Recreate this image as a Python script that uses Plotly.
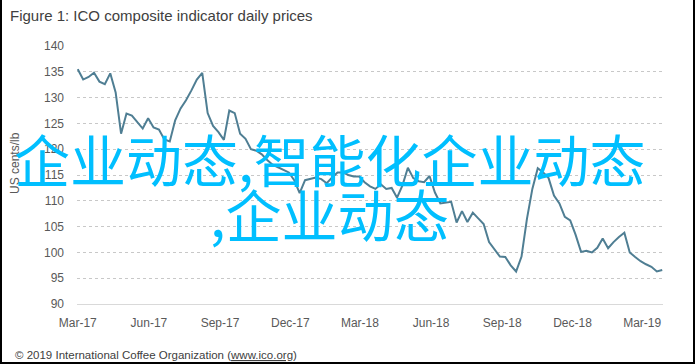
import pandas as pd
import plotly.graph_objects as go

# ---- data (weekly sampling) ----
start_date = "2017-03-01"
prices = [
    135.5, 133.5, 134.0, 134.8, 133.1, 132.6, 134.7, 131.0, 123.0, 126.9,
    126.5, 125.2, 124.0, 126.0, 124.2, 123.8, 121.9, 121.5, 125.6, 127.9,
    129.5, 131.4, 133.5, 134.8, 127.0, 124.5, 123.3, 121.8, 127.5, 127.0,
    123.0, 122.0, 120.0, 119.7, 119.0, 117.9, 117.0, 116.5, 116.0, 115.5,
    114.0, 111.5, 114.0, 114.2, 114.5, 114.2, 113.4, 114.5, 115.5, 115.5,
    115.0, 114.7, 114.7, 113.6, 112.8, 112.3, 113.2, 112.3, 112.5, 110.6,
    113.0, 116.4, 114.4, 113.8, 113.6, 114.8, 111.6, 109.5, 109.6, 109.8,
    105.8, 108.0, 105.9, 107.7, 106.6, 105.5, 102.0, 100.5, 99.2, 99.1,
    97.5, 96.3, 99.2, 106.5, 112.3, 116.3, 115.5, 114.4, 111.0, 109.5,
    106.9, 106.2, 103.4, 100.1, 100.3, 100.0, 100.9, 102.7, 100.8, 102.0,
    103.0, 103.8, 100.0, 99.1, 98.3, 97.7, 97.2, 96.3, 96.6,
]
dates = pd.date_range(start_date, periods=len(prices), freq="7D")

tick_dates = ["2017-03-01", "2017-06-01", "2017-09-01", "2017-12-01", "2018-03-01",
              "2018-06-01", "2018-09-01", "2018-12-01", "2019-03-01"]
tick_labels = ["Mar-17", "Jun-17", "Sep-17", "Dec-17", "Mar-18",
               "Jun-18", "Sep-18", "Dec-18", "Mar-19"]
y_ticks = [90, 95, 100, 105, 110, 115, 120, 125, 130, 135, 140]

title_text = "Figure 1: ICO composite indicator daily prices"
y_title = "US cents/lb"
footer_text = "© 2019 International Coffee Organization (<u>www.ico.org</u>)"
overlay_line1 = "企业动态,智能化企业动态"
overlay_line2 = ",企业动态"

# ---- figure ----
W, H = 695, 364
L, R, T, B = 77, 32, 46, 60
pw, ph = W - L - R, H - T - B


def px_x(x):
    return (x - L) / pw


def px_y(y):
    return (H - B - y) / ph


fig = go.Figure()
fig.add_trace(go.Scatter(
    x=dates, y=prices, mode="lines",
    line=dict(color="#4f7e93", width=2),
    hoverinfo="skip", showlegend=False,
))

text_font = "Liberation Sans, Arial, sans-serif"

fig.update_layout(
    width=W, height=H,
    margin=dict(l=L, r=R, t=T, b=B),
    paper_bgcolor="white", plot_bgcolor="white",
    showlegend=False,
    xaxis=dict(
        range=["2017-02-28", "2019-03-28"],
        tickvals=tick_dates, ticktext=tick_labels,
        showgrid=False, zeroline=False,
        showline=True, linecolor="#d9d9d9", linewidth=1,
        ticks="", ticklabelstandoff=8,
        tickfont=dict(family=text_font, size=12, color="#595959"),
    ),
    yaxis=dict(
        range=[90, 140], tickvals=y_ticks,
        showgrid=True, gridcolor="#c8c8c8", griddash="dot", gridwidth=1,
        zeroline=False, showline=False, ticks="", ticklabelstandoff=12,
        tickfont=dict(family=text_font, size=12, color="#595959"),
    ),
)

annotations = [
    dict(text=title_text, x=px_x(8), y=px_y(15), xref="paper", yref="paper",
         xanchor="left", yanchor="middle", showarrow=False,
         font=dict(family=text_font, size=15, color="#404040")),
    dict(text=y_title, x=px_x(15), y=px_y(163), xref="paper", yref="paper",
         xanchor="center", yanchor="middle", textangle=-90, showarrow=False,
         font=dict(family=text_font, size=12, color="#595959")),
    dict(text=footer_text, x=px_x(13), y=px_y(355), xref="paper", yref="paper",
         xanchor="left", yanchor="middle", showarrow=False,
         font=dict(family=text_font, size=11.5, color="#404040")),
    dict(text=overlay_line1, x=px_x(330), y=px_y(157), xref="paper", yref="paper",
         xanchor="center", yanchor="middle", showarrow=False,
         font=dict(family="Noto Sans CJK SC", size=56, color="#00bfff")),
    dict(text=overlay_line2, x=px_x(330), y=px_y(212), xref="paper", yref="paper",
         xanchor="center", yanchor="middle", showarrow=False,
         font=dict(family="Noto Sans CJK SC", size=56, color="#00bfff")),
]
fig.update_layout(annotations=annotations)

# frame around the picture
border = dict(type="line", xref="paper", yref="paper",
              line=dict(color="black", width=2))
fig.update_layout(shapes=[
    dict(border, x0=px_x(1), x1=px_x(1), y0=px_y(0), y1=px_y(363)),
    dict(border, x0=px_x(694), x1=px_x(694), y0=px_y(0), y1=px_y(363)),
    dict(border, x0=px_x(0), x1=px_x(695), y0=px_y(363), y1=px_y(363)),
])

fig.write_html(
    "out.html",
    config={"displayModeBar": False, "staticPlot": True},
    post_script="document.body.style.margin='0';document.body.style.overflow='hidden';",
)
